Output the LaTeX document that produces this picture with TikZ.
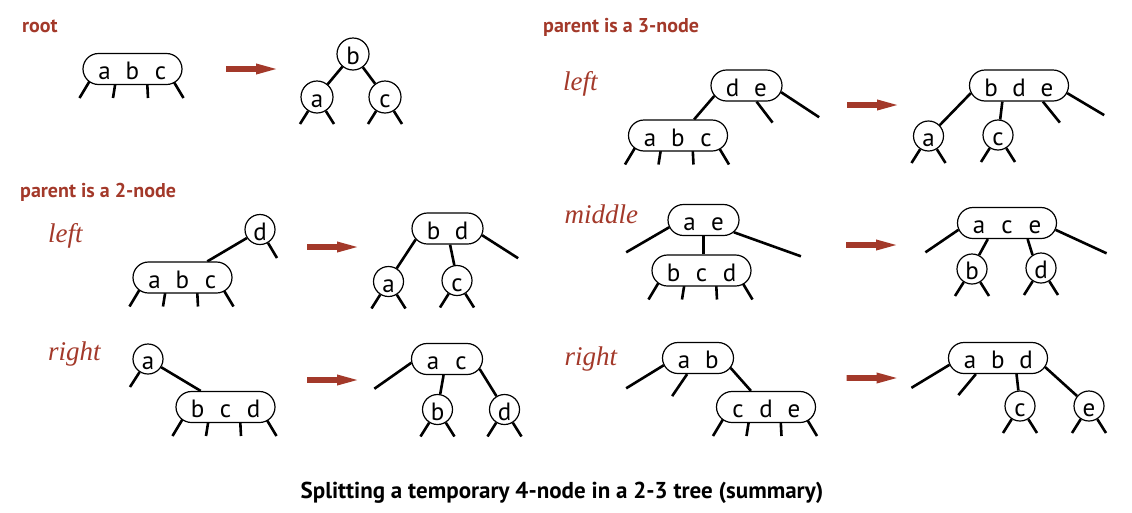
\documentclass[tikz,border=0pt]{standalone}
\usepackage{fontspec}
\setmainfont{PT Sans}
\newfontfamily\labelfont{Liberation Serif}
\usetikzlibrary{shapes.misc,shapes.arrows,arrows.meta}
\definecolor{bookred}{HTML}{A3392A}
\pgfdeclarelayer{background}
\pgfsetlayers{background,main}
\newcommand{\kbox}[1]{\makebox[12pt]{#1}}
\newcommand{\twokeys}[2]{\kbox{#1}\hspace{16pt}\kbox{#2}}
\newcommand{\threekeys}[3]{\kbox{#1}\hspace{16pt}\kbox{#2}\hspace{16pt}\kbox{#3}}
% stubs below a node (links to subtrees that are not shown)
\newcommand{\twolegs}[1]{\draw[leg] (#1) -- ++(-17,27) (#1) -- ++(17,27);}
\newcommand{\fourlegs}[1]{\draw[leg] (#1) ++(-41,9) -- ++(-12,20) (#1) ++(-16.5,10) -- ++(-3,19)
  (#1) ++(14.5,10) -- ++(1,19) (#1) ++(39,9) -- ++(12,20);}
\tikzset{
  knode/.style={circle, draw, fill=white, line width=1.2pt, minimum size=30pt, inner sep=0pt,
                font=\fontsize{25}{25}\selectfont, text height=21pt, text depth=0pt},
  keynode/.style={rounded rectangle, draw, fill=white, line width=1.2pt, minimum height=31pt,
                  inner xsep=0pt, inner ysep=0pt, font=\fontsize{25}{25}\selectfont,
                  text height=21pt, text depth=0pt},
  keytwo/.style={keynode, minimum width=71pt},
  keythree/.style={keynode, minimum width=99pt},
  leg/.style={line width=2.6pt},
  movearrow/.style={single arrow, fill=bookred, draw=none, minimum height=50pt, minimum width=10.7pt,
                    inner sep=2.65pt, single arrow head extend=2.7pt, single arrow tip angle=31},
  casetitle/.style={font=\fontsize{20}{22}\selectfont\bfseries, text=bookred, anchor=base west, inner sep=0pt},
  sidetitle/.style={font=\labelfont\fontsize{27}{30}\selectfont\itshape, text=bookred, anchor=base west, inner sep=0pt},
  captiontext/.style={font=\fontsize{23}{26}\selectfont\bfseries, anchor=base, inner sep=0pt},
}
\begin{document}
\begin{tikzpicture}[x=1pt,y=-1pt]
\useasboundingbox (0,0) rectangle (1132,512);

%Labels
\node[casetitle] (lblRoot) at (22,32.5) {root};
\node[casetitle] (lblTwo) at (20,197) {parent is a 2-node};
\node[casetitle] (lblThree) at (543,32) {parent is a 3-node};
\node[sidetitle] (lblTwoL) at (48,242) {left};
\node[sidetitle] (lblTwoR) at (48,360) {right};
\node[sidetitle] (lblThrL) at (563,90.5) {left};
\node[sidetitle] (lblThrM) at (564.5,223) {middle};
\node[sidetitle] (lblThrR) at (564.5,365) {right};
\node[captiontext] (cap) at (562,498.5) {Splitting a temporary 4-node in a 2-3 tree (summary)};

%Nodes: root
\node[keythree] (rootabc) at (132.5,69) {\threekeys{a}{b}{c}};
\node[movearrow] (arrRoot) at (246,69) {};
\node[knode, minimum size=32pt] (rootb) at (353,54) {b};
\node[knode, minimum size=32pt] (roota) at (317,97) {a};
\node[knode, minimum size=32pt] (rootc) at (385,97) {c};

%Nodes: parent is a 2-node, left
\node[knode] (twoLd) at (260,229.5) {d};
\node[keythree] (twoLabc) at (182.5,277.5) {\threekeys{a}{b}{c}};
\node[movearrow] (arrTwoL) at (327,247) {};
\node[keytwo] (twoLbd) at (447.5,228.5) {\twokeys{b}{d}};
\node[knode] (twoLa) at (388.5,281.5) {a};
\node[knode] (twoLc) at (457,280.5) {c};

%Nodes: parent is a 2-node, right
\node[knode] (twoRa) at (148,359) {a};
\node[keythree] (twoRbcd) at (225.5,407) {\threekeys{b}{c}{d}};
\node[movearrow] (arrTwoR) at (327,380) {};
\node[keytwo] (twoRac) at (447,359) {\twokeys{a}{c}};
\node[knode] (twoRb) at (437.5,409.5) {b};
\node[knode] (twoRd) at (504.5,409.5) {d};

%Nodes: parent is a 3-node, left
\node[keytwo] (thrLde) at (746.5,85.5) {\twokeys{d}{e}};
\node[keythree] (thrLabc) at (678,135.5) {\threekeys{a}{b}{c}};
\node[movearrow] (arrThrL) at (867,105) {};
\node[keythree] (thrLbde) at (1019,85.5) {\threekeys{b}{d}{e}};
\node[knode] (thrLa) at (928.5,136) {a};
\node[knode] (thrLc) at (998,135) {c};

%Nodes: parent is a 3-node, middle
\node[keytwo] (thrMae) at (703.5,220) {\twokeys{a}{e}};
\node[keythree] (thrMbcd) at (701.5,270.5) {\threekeys{b}{c}{d}};
\node[movearrow] (arrThrM) at (866,245) {};
\node[keythree] (thrMace) at (1007,223) {\threekeys{a}{c}{e}};
\node[knode] (thrMb) at (972,269) {b};
\node[knode] (thrMd) at (1041,268) {d};

%Nodes: parent is a 3-node, right
\node[keytwo] (thrRab) at (698,358) {\twokeys{a}{b}};
\node[keythree] (thrRcde) at (766,407) {\threekeys{c}{d}{e}};
\node[movearrow] (arrThrR) at (866.5,378) {};
\node[keythree] (thrRabd) at (998,358) {\threekeys{a}{b}{d}};
\node[knode] (thrRc) at (1020,406) {c};
\node[knode] (thrRe) at (1089,406) {e};

%Lines
\begin{pgfonlayer}{background}
\fourlegs{rootabc}
\draw[leg] (rootb) -- (roota);
\draw[leg] (rootb) -- (rootc);
\twolegs{roota} \twolegs{rootc}

\draw[leg] (twoLd.213) -- (twoLabc.33);
\draw[leg] (twoLd) -- ++(17,28.5);
\fourlegs{twoLabc}
\draw[leg] (twoLbd.199) -- (twoLa.58);
\draw[leg] (twoLbd.-81) -- (twoLc.100);
\draw[leg] (twoLbd.-11) -- ++(36,23);
\twolegs{twoLa} \twolegs{twoLc}

\draw[leg] (twoRa.-32) -- (twoRbcd.147);
\draw[leg] (twoRa) -- ++(-18,28);
\fourlegs{twoRbcd}
\draw[leg] (twoRac.186) -- ++(-37,26);
\draw[leg] (twoRac.-102) -- (twoRb.80);
\draw[leg] (twoRac.-17) -- (twoRd.121);
\twolegs{twoRb} \twolegs{twoRd}

\draw[leg] (thrLde.198) -- (thrLabc.45);
\draw[leg] (thrLde.-58) -- ++(16,21);
\draw[leg] (thrLde.-11) -- ++(38,25);
\fourlegs{thrLabc}
\draw[leg] (thrLbde.189) -- (thrLa.44);
\draw[leg] (thrLbde.224) -- (thrLc.82);
\draw[leg] (thrLbde.-34) -- ++(17,21);
\draw[leg] (thrLbde.-9) -- ++(37,22);
\twolegs{thrLa} \twolegs{thrLc}

\draw[leg] (thrMae.192) -- ++(-43,25);
\draw[leg] (thrMae.south) -- (thrMae.south |- thrMbcd.north);
\draw[leg] (thrMae.-22) -- ++(67,24);
\fourlegs{thrMbcd}
\draw[leg] (thrMace.188) -- ++(-33,22.5);
\draw[leg] (thrMace.220) -- (thrMb.63);
\draw[leg] (thrMace.-38) -- (thrMd.123);
\draw[leg] (thrMace.-8) -- ++(51,23.5);
\twolegs{thrMb} \twolegs{thrMd}

\draw[leg] (thrRab.192) -- ++(-37.5,23);
\draw[leg] (thrRab.236) -- ++(-15,22);
\draw[leg] (thrRab.-17) -- (thrRcde.133);
\fourlegs{thrRcde}
\draw[leg] (thrRabd.188) -- ++(-38,23);
\draw[leg] (thrRabd.216) -- ++(-17.5,21);
\draw[leg] (thrRabd.-41) -- (thrRc.96);
\draw[leg] (thrRabd.-11) -- (thrRe.140);
\twolegs{thrRc} \twolegs{thrRe}
\end{pgfonlayer}
\end{tikzpicture}
\end{document}
